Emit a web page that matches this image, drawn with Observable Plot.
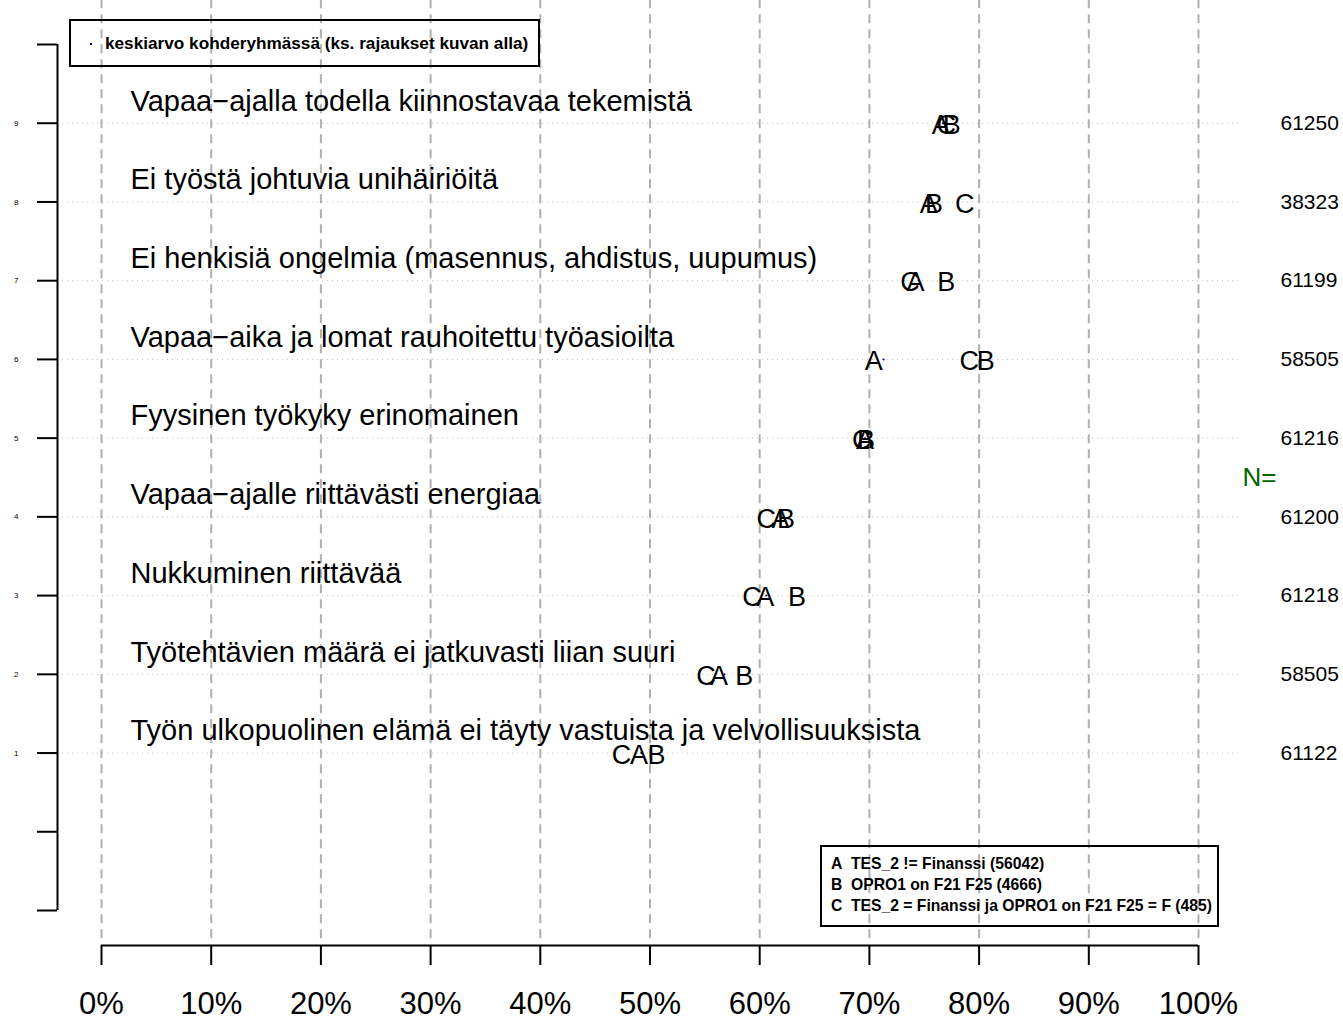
<!DOCTYPE html>
<html>
<head>
<meta charset="utf-8">
<script src="https://cdn.jsdelivr.net/npm/d3@7"></script>
<script src="https://cdn.jsdelivr.net/npm/@observablehq/plot@0.6"></script>
<style>
  body { margin: 0; background: #fff; font-family: "Liberation Sans", Arial, sans-serif; }
  #wrap { position: relative; width: 1343px; height: 1018px; overflow: hidden; }
  .legend { position: absolute; border: 2px solid #000; box-sizing: border-box; font-weight: bold; color: #000; }
  #legTop { left: 69px; top: 19px; width: 471px; height: 48px; font-size: 17.2px; }
  #legTop .dot { position: absolute; left: 19px; top: 22px; width: 2px; height: 2px; background: #00008b; }
  #legTop .txt { position: absolute; left: 34px; top: 12px; white-space: nowrap; }
  #legBot { left: 820px; top: 845px; width: 399px; height: 82px; font-size: 15.7px; }
  #legBot .row { position: absolute; left: 9px; white-space: nowrap; }
  #legBot .row b { display: inline-block; width: 20px; }
</style>
</head>
<body>
<div id="wrap"></div>
<script>
// ---- data ----
const labels = [
  "Työn ulkopuolinen elämä ei täyty vastuista ja velvollisuuksista",
  "Työtehtävien määrä ei jatkuvasti liian suuri",
  "Nukkuminen riittävää",
  "Vapaa−ajalle riittävästi energiaa",
  "Fyysinen työkyky erinomainen",
  "Vapaa−aika ja lomat rauhoitettu työasioilta",
  "Ei henkisiä ongelmia (masennus, ahdistus, uupumus)",
  "Ei työstä johtuvia unihäiriöitä",
  "Vapaa−ajalla todella kiinnostavaa tekemistä"
];
const positions = [1, 2, 3, 4, 5, 6, 7, 8, 9];
const nValues = [61122, 58505, 61218, 61200, 61216, 58505, 61199, 38323, 61250];
const valuesA = [49.0, 56.3, 60.5, 61.9, 69.6, 70.4, 74.2, 75.4, 76.5];
const valuesB = [50.6, 58.6, 63.4, 62.4, 69.7, 80.6, 77.0, 75.9, 77.5];
const valuesC = [47.4, 55.1, 59.3, 60.6, 69.3, 79.1, 73.7, 78.7, 77.0];
const targetMean = [49.2, 56.8, 60.6, 61.9, 69.6, 71.3, 74.5, 75.7, 76.7];
const xTicks = [0, 10, 20, 30, 40, 50, 60, 70, 80, 90, 100];
const yTicks = [-1, 0, 1, 2, 3, 4, 5, 6, 7, 8, 9, 10];
const legendTop = "keskiarvo kohderyhmässä (ks. rajaukset kuvan alla)";
const groupKeys = ["A", "B", "C"];
const groupNames = [
  "TES_2 != Finanssi (56042)",
  "OPRO1 on F21 F25 (4666)",
  "TES_2 = Finanssi ja OPRO1 on F21 F25 = F (485)"
];

// ---- table ----
const rows = positions.map((p, i) => ({pos: p, label: labels[i], n: String(nValues[i]), a: valuesA[i], b: valuesB[i], c: valuesC[i], m: targetMean[i]}));

const chart = Plot.plot({
  width: 1343,
  height: 1018,
  marginLeft: 101,
  marginRight: 145,
  marginTop: 44,
  marginBottom: 108,
  style: {fontFamily: "'Liberation Sans', Arial, sans-serif", background: "transparent", overflow: "visible"},
  x: {domain: [0, 100], label: null},
  y: {domain: [-1, 10], label: null},
  marks: [
    // vertical dashed grid
    Plot.ruleX(xTicks, {y1: 10.57, y2: -1.4, stroke: "#b0b0b0", strokeWidth: 2, strokeDasharray: "9,6"}),
    // horizontal dotted guides
    Plot.ruleY(rows, {y: "pos", x1: -4, x2: 103.8, stroke: "#bdbdbd", strokeWidth: 1, strokeDasharray: "1,4"}),
    // y axis
    Plot.ruleX([0], {y1: -1, y2: 10, dx: -44, stroke: "#000", strokeWidth: 2}),
    Plot.axisY({ticks: yTicks, tickFormat: d => (d >= 1 && d <= 9) ? String(d) : "", tickSize: 20, tickPadding: 19, dx: -44, fontSize: 8, strokeWidth: 2, stroke: "#000", label: null}),
    // x axis
    Plot.ruleY([-1], {x1: 0, x2: 100, dy: 35, stroke: "#000", strokeWidth: 2}),
    Plot.axisX({ticks: xTicks, tickFormat: d => d + "%", tickSize: 20, tickPadding: 26, dy: 35, fontSize: 31, strokeWidth: 2, stroke: "#000", label: null}),
    // category labels
    Plot.text(rows, {y: "pos", text: "label", frameAnchor: "left", dx: 29, dy: -22, textAnchor: "start", fontSize: 29, fill: "#000"}),
    // target mean dots
    Plot.dot(rows, {x: "m", y: "pos", r: 1, fill: "#00008b", stroke: null}),
    // group letters
    Plot.text(rows, {x: "a", y: "pos", text: () => groupKeys[0], fontSize: 27, dy: 2, fill: "#000"}),
    Plot.text(rows, {x: "b", y: "pos", text: () => groupKeys[1], fontSize: 27, dy: 2, fill: "#000"}),
    Plot.text(rows, {x: "c", y: "pos", text: () => groupKeys[2], fontSize: 27, dy: 2, fill: "#000"}),
    // N values
    Plot.text(rows, {y: "pos", text: "n", frameAnchor: "right", dx: 82, textAnchor: "start", fontSize: 21, fill: "#000"}),
    Plot.text(["N="], {frameAnchor: "right", dx: 61, textAnchor: "middle", fontSize: 26, fill: "#006400"})
  ]
});

const wrap = document.getElementById("wrap");
chart.style.position = "absolute";
chart.style.left = "0px";
chart.style.top = "0px";
wrap.appendChild(chart);

// legends
const lt = document.createElement("div");
lt.className = "legend"; lt.id = "legTop";
lt.innerHTML = `<div class="dot"></div><div class="txt"></div>`;
lt.querySelector(".txt").textContent = legendTop;
wrap.appendChild(lt);

const lb = document.createElement("div");
lb.className = "legend"; lb.id = "legBot";
groupKeys.forEach((k, i) => {
  const r = document.createElement("div");
  r.className = "row";
  r.style.top = (8 + i * 21) + "px";
  const b = document.createElement("b"); b.textContent = k;
  r.appendChild(b);
  r.appendChild(document.createTextNode(groupNames[i]));
  lb.appendChild(r);
});
wrap.appendChild(lb);
</script>
</body>
</html>
